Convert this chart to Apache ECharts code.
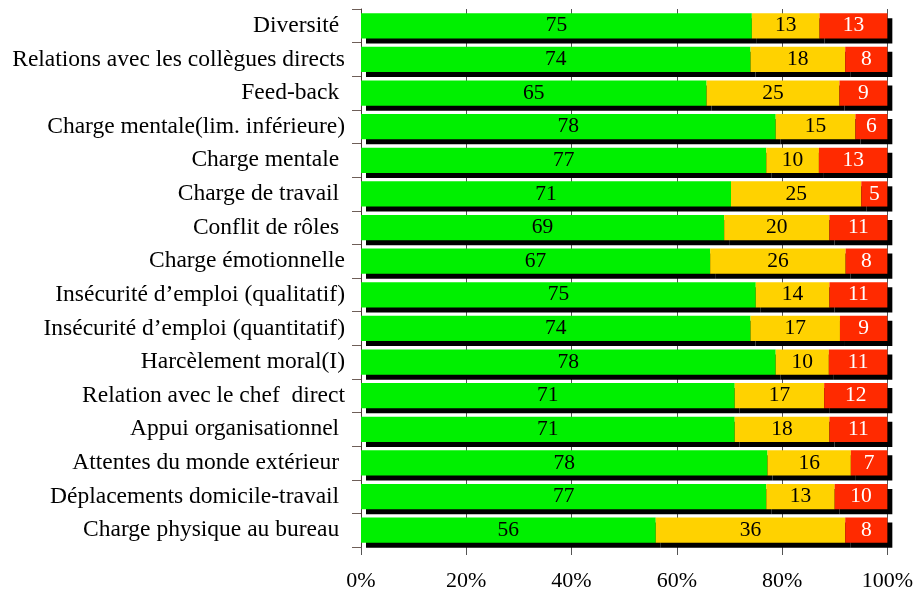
<!DOCTYPE html>
<html>
<head>
<meta charset="utf-8">
<script src="https://cdn.jsdelivr.net/npm/echarts@6/dist/echarts.min.js"></script>
<style>
html,body{margin:0;padding:0;background:#fff;}
#chart{width:916px;height:595px;}
</style>
</head>
<body>
<div id="chart"></div>
<script>
const categories = [
  "Diversité ",
  "Relations avec les collègues directs",
  "Feed-back ",
  "Charge mentale(lim. inférieure)",
  "Charge mentale ",
  "Charge de travail ",
  "Conflit de rôles ",
  "Charge émotionnelle",
  "Insécurité d’emploi (qualitatif)",
  "Insécurité d’emploi (quantitatif)",
  "Harcèlement moral(I)",
  "Relation avec le chef  direct",
  "Appui organisationnel ",
  "Attentes du monde extérieur ",
  "Déplacements domicile-travail ",
  "Charge physique au bureau "
];
const greenValues  = [75, 74, 65, 78, 77, 71, 69, 67, 75, 74, 78, 71, 71, 78, 77, 56];
const yellowValues = [13, 18, 25, 15, 10, 25, 20, 26, 14, 17, 10, 17, 18, 16, 13, 36];
const redValues    = [13,  8,  9,  6, 13,  5, 11,  8, 11,  9, 11, 12, 11,  7, 10,  8];
const tickLabels = ["0%", "20%", "40%", "60%", "80%", "100%"];

const totals = categories.map((c, i) => greenValues[i] + yellowValues[i] + redValues[i]);
function share(arr) {
  return arr.map((v, i) => ({ value: v / totals[i] * 100, raw: v }));
}

const FONT = "Liberation Serif";
const chart = echarts.init(document.getElementById('chart'), null, { renderer: 'canvas' });

function barSeries(name, arr, color, textColor) {
  return {
    name: name,
    type: 'bar',
    stack: 'total',
    barWidth: '75%',
    data: share(arr),
    itemStyle: {
      color: color,
      shadowColor: '#000',
      shadowBlur: 0,
      shadowOffsetX: 5,
      shadowOffsetY: 5
    },
    label: {
      show: true,
      position: 'inside',
      color: textColor,
      fontFamily: FONT,
      fontSize: 21.5,
      formatter: p => String(p.data.raw)
    },
    emphasis: { disabled: true },
    animation: false
  };
}

chart.setOption({
  animation: false,
  grid: { left: 361, right: 28, top: 9, bottom: 48, containLabel: false },
  xAxis: {
    type: 'value',
    min: 0, max: 100, interval: 20,
    axisLine: { show: false },
    axisTick: { show: true, length: 8, lineStyle: { color: '#555', width: 1 } },
    splitLine: { show: true, lineStyle: { color: '#555', width: 1 } },
    axisLabel: {
      color: '#000', fontFamily: FONT, fontSize: 22, margin: 23,
      formatter: v => tickLabels[Math.round(v / 20)]
    }
  },
  yAxis: {
    type: 'category',
    inverse: true,
    data: categories,
    axisLine: { show: true, lineStyle: { color: '#4a3a34', width: 1 } },
    axisTick: { show: true, length: 9, alignWithLabel: false, lineStyle: { color: '#6e5e58', width: 1 } },
    axisLabel: { color: '#000', fontFamily: FONT, fontSize: 23.5, margin: 16 }
  },
  series: [
    barSeries('green', greenValues, '#00f000', '#000'),
    barSeries('yellow', yellowValues, '#ffd200', '#000'),
    barSeries('red', redValues, '#ff2a00', '#fff')
  ]
});
</script>
</body>
</html>
